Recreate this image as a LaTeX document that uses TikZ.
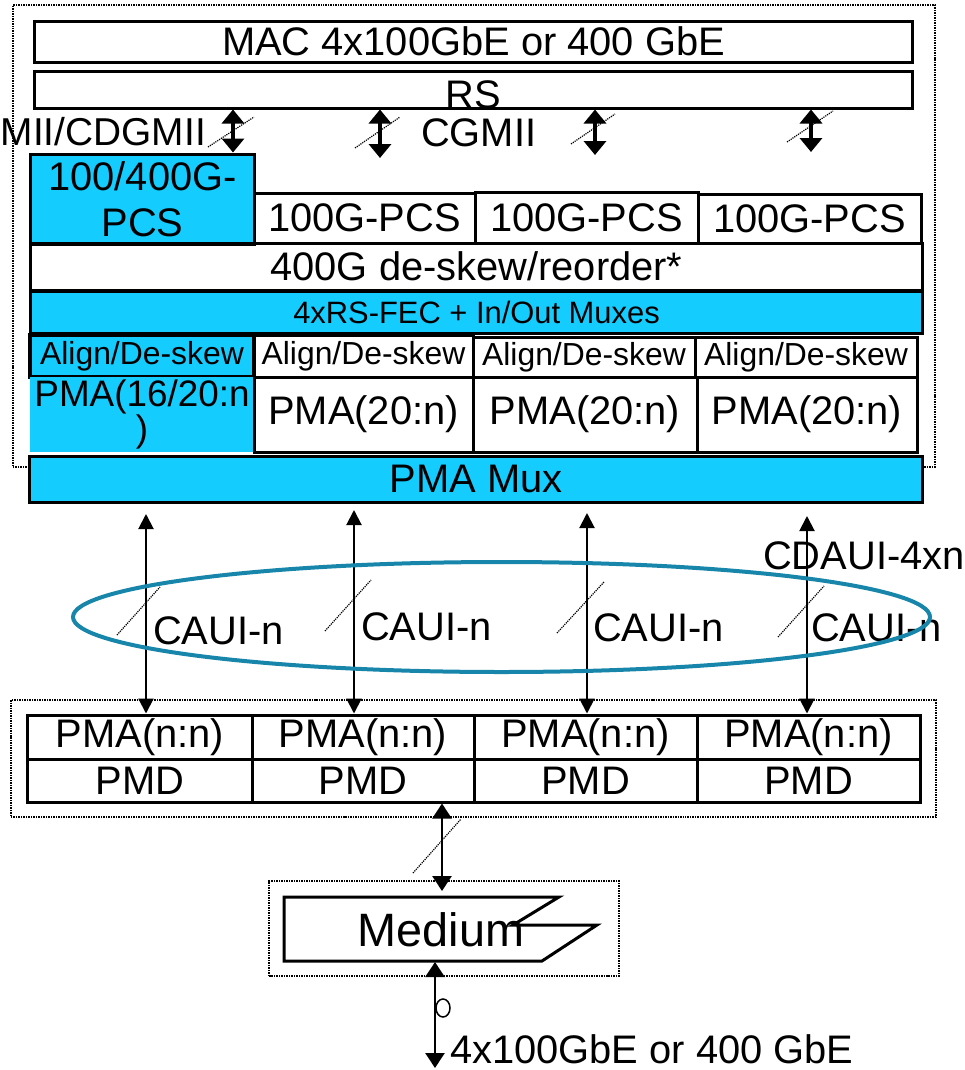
\documentclass[tikz,border=0pt]{standalone}
\usepackage{fontspec}
\setmainfont{Liberation Sans}
\usetikzlibrary{arrows.meta}
\usetikzlibrary{shapes.geometric}

\definecolor{pcsblue}{RGB}{21,204,255}
\definecolor{ringteal}{RGB}{23,134,170}

\tikzset{
  layer/.style={draw,line width=3bp,inner sep=0pt,font=\fontsize{40}{46}\selectfont},
  bluelayer/.style={layer,fill=pcsblue},
  smalllayer/.style={layer,font=\fontsize{32}{37}\selectfont},
  dotbox/.style={draw,densely dotted,line width=1.5bp,inner sep=0pt},
  lbl/.style={inner sep=0pt,font=\fontsize{40}{46}\selectfont},
  slash/.style={densely dotted,line width=1.2bp},
  fatlink/.style={{Triangle[length=14bp,width=22bp]}-{Triangle[length=14bp,width=22bp]},line width=3.5bp},
  thinlink/.style={{Triangle[length=15bp,width=15bp]}-{Triangle[length=15bp,width=15bp]},line width=2bp},
  medlink/.style={{Triangle[length=15bp,width=19bp]}-{Triangle[length=15bp,width=19bp]},line width=2.5bp},
}

\begin{document}
\begin{tikzpicture}[x=1bp,y=-1bp]
\useasboundingbox (0,0) rectangle (965,1070);
%% upper stack
\node (upper) at (474,236) [dotbox,minimum width=922bp,minimum height=462bp] {};
\node (mac) at (473.5,41.5) [layer,minimum width=877bp,minimum height=41bp] {MAC 4x100GbE or 400 GbE};
\node (rs) at (473.5,89.5) [layer,minimum width=877bp,minimum height=37bp] {\raisebox{-5bp}[\height][0pt]{RS}};
\node (pcsA) at (142.5,199) [bluelayer,align=center,minimum width=223bp,minimum height=90bp] {100/400G-\\PCS};
\node (pcsB) at (364.5,218) [layer,minimum width=221bp,minimum height=50bp] {100G-PCS};
\node (pcsC) at (586.5,217.5) [layer,minimum width=223bp,minimum height=51bp] {100G-PCS};
\node (pcsD) at (809.5,218.5) [layer,minimum width=223bp,minimum height=49bp] {100G-PCS};
\node (deskew) at (476.5,266.5) [layer,minimum width=891bp,minimum height=47bp] {400G de-skew/reorder*};
\node (fec) at (476.5,312) [bluelayer,font=\fontsize{31}{36}\selectfont,minimum width=891bp,minimum height=42bp] {4xRS-FEC + In/Out Muxes};
\node (alignA) at (142,356) [smalllayer,fill=pcsblue,line width=3.5bp,minimum width=224bp,minimum height=42bp] {Align/De-skew};
\node (alignB) at (363.5,356) [smalllayer,minimum width=219bp,minimum height=42bp] {Align/De-skew};
\node (alignC) at (584,357) [smalllayer,minimum width=222bp,minimum height=40bp] {Align/De-skew};
\node (alignD) at (806,357) [smalllayer,minimum width=222bp,minimum height=40bp] {Align/De-skew};
\node (pmaA) at (142,414.5) [bluelayer,draw=none,align=center,font=\fontsize{37}{36}\selectfont,minimum width=224bp,minimum height=75bp] {PMA(16/20:n\\)};
\node (pmaB) at (363.5,414.5) [layer,minimum width=219bp,minimum height=75bp] {PMA(20:n)};
\node (pmaC) at (585,414.5) [layer,minimum width=224bp,minimum height=75bp] {PMA(20:n)};
\node (pmaD) at (807,414.5) [layer,minimum width=220bp,minimum height=75bp] {PMA(20:n)};
\node (mux) at (476,479) [bluelayer,minimum width=892bp,minimum height=46bp] {PMA Mux};

%% xgmii side
\node (xgmiiL) at (206,132) [lbl,anchor=east,font=\fontsize{39}{45}\selectfont] {MII/CDGMII};
\node (cgmiiL) at (421,133) [lbl,anchor=west] {CGMII};
\coordinate (laneA) at (233,0);
\coordinate (cgB) at (380,158);
\coordinate (cgC) at (595,155);
\coordinate (cgD) at (811,152);
\draw [fatlink] (rs.south -| laneA) -- (pcsA.north -| laneA);
\draw [fatlink] (rs.south -| cgB) -- (cgB);
\draw [fatlink] (rs.south -| cgC) -- (cgC);
\draw [fatlink] (rs.south -| cgD) -- (cgD);
\draw [slash] (208,147) -- (254,117);
\draw [slash] (355,148) -- (400,117);
\draw [slash] (571,144) -- (615,114);
\draw [slash] (787,142) -- (833,111);

%% lower stack
\node (lower) at (473.5,758.5) [dotbox,minimum width=925bp,minimum height=117bp] {};
\node (nnA) at (140,737) [layer,minimum width=224bp,minimum height=44bp] {PMA(n:n)};
\node (nnB) at (363,737) [layer,minimum width=222bp,minimum height=44bp] {PMA(n:n)};
\node (nnC) at (585.5,737) [layer,minimum width=223bp,minimum height=44bp] {PMA(n:n)};
\node (nnD) at (808.5,737) [layer,minimum width=223bp,minimum height=44bp] {PMA(n:n)};
\node (pmdA) at (140,780.5) [layer,minimum width=224bp,minimum height=43bp] {PMD};
\node (pmdB) at (363,780.5) [layer,minimum width=222bp,minimum height=43bp] {PMD};
\node (pmdC) at (585.5,780.5) [layer,minimum width=223bp,minimum height=43bp] {PMD};
\node (pmdD) at (808.5,780.5) [layer,minimum width=223bp,minimum height=43bp] {PMD};

%% caui lanes
\node (cauiA) at (153,631) [lbl,anchor=west] {CAUI-n};
\node (cauiB) at (361,627) [lbl,anchor=west] {CAUI-n};
\node (cauiC) at (593,628) [lbl,anchor=west] {CAUI-n};
\node (cauiD) at (811,628) [lbl,anchor=west] {CAUI-n};
\node (cdaui) at (763,556) [lbl,anchor=west] {CDAUI-4xn};
\coordinate (muxA) at (146,514);
\coordinate (muxB) at (354,510);
\coordinate (muxC) at (587,513);
\coordinate (muxD) at (807,516);
\draw [thinlink] (muxA) -- (nnA.north -| muxA);
\draw [thinlink] (muxB) -- (nnB.north -| muxB);
\draw [thinlink] (muxC) -- (nnC.north -| muxC);
\draw [thinlink] (muxD) -- (nnD.north -| muxD);
\draw [slash] (117,635) -- (160,587);
\draw [slash] (325,631) -- (371,580);
\draw [slash] (557,633) -- (604,582);
\draw [slash] (778,637) -- (824,586);
\node (ring) at (501.5,617) [draw=ringteal,line width=4bp,ellipse,minimum width=857bp,minimum height=110bp,inner sep=0pt] {};

%% medium
\node (medframe) at (444,928.5) [dotbox,minimum width=350bp,minimum height=95bp] {};
\draw [line width=3bp,line join=miter] (284,897) -- (559,897) -- (513,925) -- (597,925) -- (542,961) -- (284,961) -- cycle;
\node (medium) at (441,930) [inner sep=0pt,font=\fontsize{47}{54}\selectfont] {Medium};
\coordinate (medTop) at (442,891);
\coordinate (medBot) at (435,962);
\coordinate (lineEnd) at (435,1068);
\draw [medlink] (pmdB.south -| medTop) -- (medTop);
\draw [slash] (413,873) -- (461,819);
\draw [medlink] (medBot) -- (lineEnd);
\draw [line width=1.5bp] (443,1008) ellipse [x radius=7, y radius=9];
\node (rate) at (450,1049) [lbl,anchor=west] {4x100GbE or 400 GbE};
\end{tikzpicture}
\end{document}
